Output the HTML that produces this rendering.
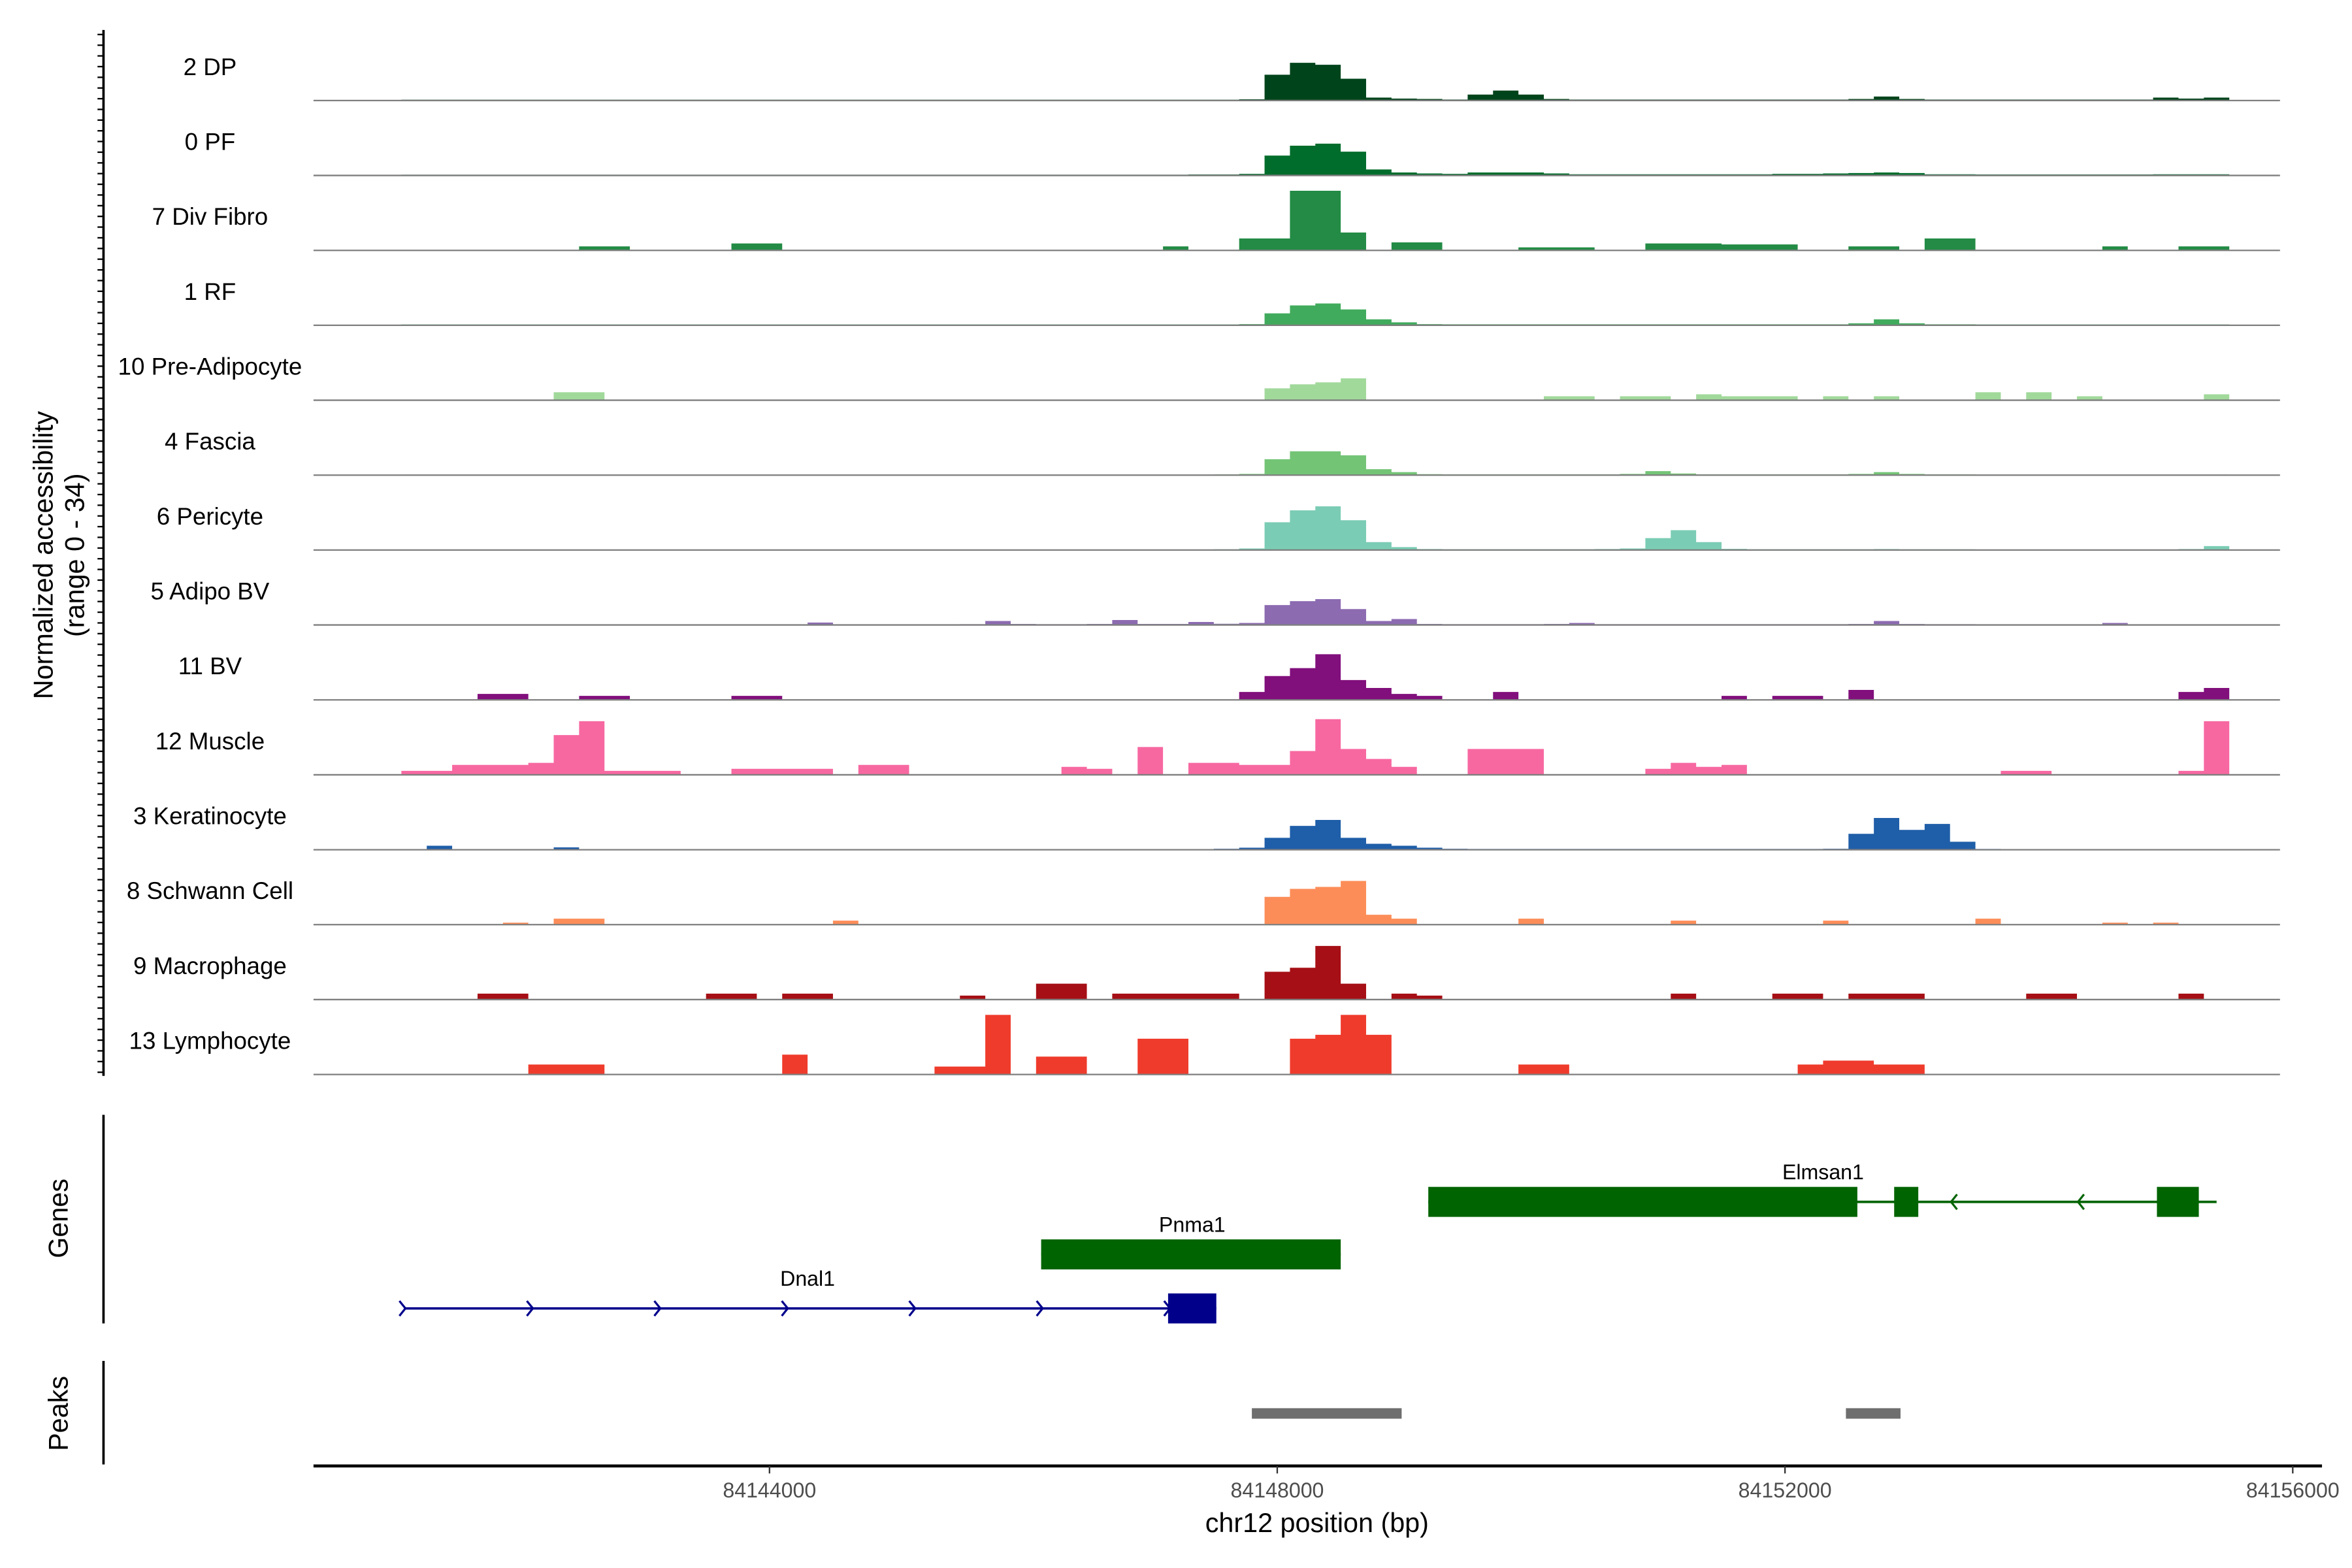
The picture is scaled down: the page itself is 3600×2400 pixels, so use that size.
<!DOCTYPE html>
<html><head><meta charset="utf-8"><style>
html,body{margin:0;padding:0;background:#fff;}
svg{display:block;font-family:"Liberation Sans",Arial,sans-serif;}
</style></head><body>
<svg id="chart" width="3600" height="2400" viewBox="0 0 1568 1045" preserveAspectRatio="none" xmlns="http://www.w3.org/2000/svg">
<rect width="1568" height="1045" fill="#fff"/>
<g id="tracks"></g>
<g id="yaxis"><line x1="69" y1="20" x2="69" y2="717" stroke="#000" stroke-width="1.6"/></g>
<text transform="translate(35,370) rotate(-90)" text-anchor="middle" font-size="18">Normalized accessibility</text>
<text transform="translate(56,370) rotate(-90)" text-anchor="middle" font-size="18">(range 0 - 34)</text>
<g id="genes">
<line x1="69" y1="743" x2="69" y2="882" stroke="#000" stroke-width="1.6"/>
<text transform="translate(45,812) rotate(-90)" text-anchor="middle" font-size="18">Genes</text>
</g>
<g id="peaks">
<line x1="69" y1="907" x2="69" y2="976" stroke="#000" stroke-width="1.6"/>
<text transform="translate(45,942) rotate(-90)" text-anchor="middle" font-size="18">Peaks</text>
</g>
<g id="xaxis">
<line x1="209" y1="977" x2="1548" y2="977" stroke="#000" stroke-width="2"/>
<text x="878" y="1021" text-anchor="middle" font-size="18">chr12 position (bp)</text>
</g>
</svg>
<script>
const trackNames = ["2 DP","0 PF","7 Div Fibro","1 RF","10 Pre-Adipocyte","4 Fascia","6 Pericyte","5 Adipo BV","11 BV","12 Muscle","3 Keratinocyte","8 Schwann Cell","9 Macrophage","13 Lymphocyte"];
const trackColors = ["#00441b","#006d2c","#238b45","#41ab5d","#a1d99b","#74c476","#7bccb4","#8c6bb1","#810f7c","#f768a1","#1f5ea8","#fc8d59","#a50f15","#ef3b2c"];
const binStart = 84141100;
const binSize = 200;
const yMax = 34;
const cov0 = [0.4,0.4,0.4,0.4,0.4,0.4,0.4,0.4,0.4,0.4,0.4,0.4,0.4,0.4,0.4,0.4,0.4,0.4,0.4,0.4,0.4,0.4,0.4,0.4,0.4,0.4,0.4,0.4,0.4,0.4,0.4,0.4,0.4,0.6,13,19,18,11,1.5,1,0.8,0.5,3,5,3,0.8,0.5,0.5,0.5,0.5,0.5,0.5,0.5,0.5,0.5,0.5,0.5,0.8,2,0.8,0.5,0.5,0.5,0.5,0.5,0.5,0.5,0.5,0.5,1.5,1,1.5];
const cov1 = [0.4,0.4,0.4,0.4,0.4,0.4,0.4,0.4,0.4,0.4,0.4,0.4,0.4,0.4,0.4,0.4,0.4,0.4,0.4,0.4,0.4,0.4,0.4,0.4,0.4,0.4,0.4,0.4,0.4,0.4,0.4,0.5,0.5,0.8,10,15,16,12,3,1.5,1,0.8,1.5,1.5,1.5,1,0.6,0.6,0.6,0.6,0.6,0.6,0.6,0.6,0.8,0.8,1,1.2,1.5,1.2,0.6,0.6,0.5,0.5,0.5,0.5,0.5,0.5,0.5,0.6,0.6,0.6];
const cov2 = [0,0,0,0,0,0,0,2,2,0,0,0,0,3.5,3.5,0,0,0,0,0,0,0,0,0,0,0,0,0,0,0,2,0,0,6,6,30,30,9,0,4,4,0,0,0,1.5,1.5,1.5,0,0,3.5,3.5,3.5,3,3,3,0,0,2,2,0,6,6,0,0,0,0,0,2,0,0,2,2];
const cov3 = [0.4,0.4,0.4,0.4,0.4,0.4,0.4,0.4,0.4,0.4,0.4,0.4,0.4,0.4,0.4,0.4,0.4,0.4,0.4,0.4,0.4,0.4,0.4,0.4,0.4,0.4,0.4,0.4,0.4,0.4,0.4,0.4,0.4,0.6,6,10,11,8,3,1.5,0.6,0.5,0.5,0.5,0.5,0.5,0.5,0.5,0.5,0.5,0.5,0.5,0.5,0.5,0.5,0.5,0.5,1,3,1,0.5,0.5,0.4,0.4,0.4,0.4,0.4,0.4,0.4,0.4,0.4,0.4];
const cov4 = [0,0,0,0,0,0,4,4,0,0,0,0,0,0,0,0,0,0,0,0,0,0,0,0,0,0,0,0,0,0,0,0,0,0,6,8,9,11,0,0,0,0,0,0,0,2,2,0,2,2,0,3,2,2,2,0,2,0,2,0,0,0,4,0,4,0,2,0,0,0,0,3];
const cov5 = [0.3,0.3,0.3,0.3,0.3,0.3,0.3,0.3,0.3,0.3,0.3,0.3,0.3,0.3,0.3,0.3,0.3,0.3,0.3,0.3,0.3,0.3,0.3,0.3,0.3,0.3,0.3,0.3,0.3,0.3,0.3,0.3,0.4,0.6,8,12,12,10,3,1.5,0.5,0.4,0.4,0.4,0.4,0.4,0.4,0.4,0.6,2,0.8,0.4,0.4,0.4,0.4,0.4,0.4,0.6,1.5,0.6,0.4,0.4,0.3,0.3,0.3,0.3,0.3,0.3,0.3,0.3,0.3,0.3];
const cov6 = [0.3,0.3,0.3,0.3,0.3,0.3,0.3,0.3,0.3,0.3,0.3,0.3,0.3,0.3,0.3,0.3,0.3,0.3,0.3,0.3,0.3,0.3,0.3,0.3,0.3,0.3,0.3,0.3,0.3,0.3,0.3,0.3,0.4,0.8,14,20,22,15,4,1.5,0.5,0.4,0.4,0.4,0.4,0.4,0.4,0.5,0.8,6,10,4,0.6,0.4,0.4,0.4,0.4,0.4,0.5,0.4,0.4,0.4,0.3,0.3,0.3,0.3,0.3,0.3,0.3,0.3,0.5,2];
const cov7 = [0.2,0.2,0.2,0.2,0.2,0.2,0.2,0.2,0.2,0.2,0.2,0.2,0.2,0.2,0.2,0.2,1.2,0.3,0.3,0.3,0.3,0.3,0.4,2,0.5,0.4,0.4,0.5,2.5,0.5,0.5,1.5,0.6,1,10,12,13,8,2,3,0.5,0.4,0.4,0.4,0.4,0.5,1,0.4,0.4,0.4,0.4,0.4,0.4,0.4,0.4,0.4,0.4,0.5,2,0.5,0.4,0.4,0.3,0.3,0.3,0.3,0.3,1,0.3,0.3,0.3,0.3];
const cov8 = [0,0,0,3,3,0,0,2,2,0,0,0,0,2,2,0,0,0,0,0,0,0,0,0,0,0,0,0,0,0,0,0,0,4,12,16,23,10,6,3,2,0,0,4,0,0,0,0,0,0,0,0,2,0,2,2,0,5,0,0,0,0,0,0,0,0,0,0,0,0,4,6];
const cov9 = [2,2,5,5,5,6,20,27,2,2,2,0,0,3,3,3,3,0,5,5,0,0,0,0,0,0,4,3,0,14,0,6,6,5,5,12,28,13,8,4,0,0,13,13,13,0,0,0,0,3,6,4,5,0,0,0,0,0,0,0,0,0,0,2,2,0,0,0,0,0,2,27];
const cov10 = [0.3,2,0.3,0.3,0.3,0.3,1.2,0.3,0.3,0.3,0.3,0.3,0.3,0.3,0.3,0.3,0.3,0.3,0.3,0.3,0.3,0.3,0.3,0.3,0.3,0.3,0.3,0.3,0.3,0.3,0.3,0.3,0.5,1,6,12,15,6,3,2,1,0.5,0.4,0.4,0.4,0.4,0.4,0.4,0.4,0.4,0.4,0.4,0.4,0.4,0.4,0.4,0.5,8,16,10,13,4,0.4,0.3,0.3,0.3,0.3,0.3,0.3,0.3,0.3,0.3];
const cov11 = [0,0,0,0,1,0,3,3,0,0,0,0,0,0,0,0,0,2,0,0,0,0,0,0,0,0,0,0,0,0,0,0,0,0,14,18,19,22,5,3,0,0,0,0,3,0,0,0,0,0,2,0,0,0,0,0,2,0,0,0,0,0,3,0,0,0,0,1,0,1,0,0];
const cov12 = [0,0,0,3,3,0,0,0,0,0,0,0,3,3,0,3,3,0,0,0,0,0,2,0,0,8,8,0,3,3,3,3,3,0,14,16,27,8,0,3,2,0,0,0,0,0,0,0,0,0,3,0,0,0,3,3,0,3,3,3,0,0,0,0,3,3,0,0,0,0,3,0];
const cov13 = [0,0,0,0,0,5,5,5,0,0,0,0,0,0,0,10,0,0,0,0,0,4,4,30,0,9,9,0,0,18,18,0,0,0,0,18,20,30,20,0,0,0,0,0,5,5,0,0,0,0,0,0,0,0,0,5,7,7,5,5,0,0,0,0,0,0,0,0,0,0,0,0];
const coverage = [cov0,cov1,cov2,cov3,cov4,cov5,cov6,cov7,cov8,cov9,cov10,cov11,cov12,cov13];
const xTicks = [84144000,84148000,84152000,84156000];
const xTickLabels = ["84144000","84148000","84152000","84156000"];
const genes = [
 {name:"Elmsan1", color:"#006400", start:84149190, end:84155400, y:801, labelX:84152300, strand:-1,
  exons:[[84149190,84152570],[84152860,84153050],[84154930,84155260]], arrows:[84153320,84154320]},
 {name:"Pnma1", color:"#006400", start:84146140, end:84148500, y:836, labelX:84147330, strand:1,
  exons:[[84146140,84148500]], arrows:[]},
 {name:"Dnal1", color:"#00008b", start:84141120, end:84147520, y:872, labelX:84144300, strand:1,
  exons:[[84147140,84147520]], arrows:[84141120,84142124,84143128,84144132,84145136,84146140,84147144]}
];
const peakStarts = [84147800,84152480];
const peakEnds = [84148980,84152910];

const NS="http://www.w3.org/2000/svg";
function xs(bp){ return 513 + (bp-84144000)*(338.5/4000); }
const trackTop = 20, trackStep = 49.93, trackH = 45;
function baseY(t){ return 67 + t*trackStep; }
function ys(v,t){ return baseY(t) - Math.min(v,yMax)/yMax*trackH; }
function mk(tag, attrs, parent){ const e=document.createElementNS(NS,tag); for(const k in attrs) e.setAttribute(k,attrs[k]); parent.appendChild(e); return e; }

const tg=document.getElementById('tracks');
coverage.forEach((arr,t)=>{
  const g=mk('g',{},tg);
  
  
  const lbl=mk('text',{x:140,y:baseY(t)-17,'text-anchor':'middle','font-size':16,fill:'#000'},g);
  lbl.textContent=trackNames[t];
  
  
  let d='M'+xs(binStart)+','+baseY(t);
  arr.forEach((v,i)=>{
    const x0=xs(binStart+i*binSize), x1=xs(binStart+(i+1)*binSize);
    d+=' L'+x0+','+ys(v,t)+' L'+x1+','+ys(v,t);
  });
  d+=' L'+xs(binStart+arr.length*binSize)+','+baseY(t)+' Z';
  const p=mk('path',{d:d,fill:trackColors[t]},g);
  
  
  const bl=mk('line',{x1:209,x2:1520,y1:baseY(t),y2:baseY(t),stroke:'#7f7f7f','stroke-width':1},g);
  
  
});
const ya=document.getElementById('yaxis');
for(let y=trackTop+3; y<=717; y+=7.13){
  const tk=mk('line',{x1:65,x2:69,y1:y,y2:y,stroke:'#000','stroke-width':1},ya);
  
  
}
const gg=document.getElementById('genes');
genes.forEach(g=>{
  const grp=mk('g',{},gg);
  
  
  mk('line',{x1:xs(g.start),x2:xs(g.end),y1:g.y,y2:g.y,stroke:g.color,'stroke-width':1.6},grp);
  g.arrows.forEach(a=>{
    const x=xs(a), s=g.strand;
    mk('path',{d:'M'+(x-3*s)+','+(g.y-5)+' L'+(x+1*s)+','+g.y+' L'+(x-3*s)+','+(g.y+5),fill:'none',stroke:g.color,'stroke-width':1.4},grp);
  });
  g.exons.forEach(e=>{
    const r=mk('rect',{x:xs(e[0]),y:g.y-10,width:xs(e[1])-xs(e[0]),height:20,fill:g.color},grp);
    
    
  });
  const tx=mk('text',{x:xs(g.labelX),y:g.y-15,'text-anchor':'middle','font-size':14},grp);
  tx.textContent=g.name;
  
  
});
const pg=document.getElementById('peaks');
peakStarts.forEach((s,i)=>{
  const r=mk('rect',{x:xs(s),y:938.5,width:xs(peakEnds[i])-xs(s),height:7,fill:'#6e6e6e'},pg);
  
  
});
const xa=document.getElementById('xaxis');
xTicks.forEach((b,i)=>{
  const tk=mk('line',{x1:xs(b),x2:xs(b),y1:977,y2:982,stroke:'#333','stroke-width':1},xa);
  
  
  const t=mk('text',{x:xs(b),y:998,'text-anchor':'middle','font-size':14,fill:'#4d4d4d'},xa);
  t.textContent=xTickLabels[i];
  
  
});
</script>
</body></html>
